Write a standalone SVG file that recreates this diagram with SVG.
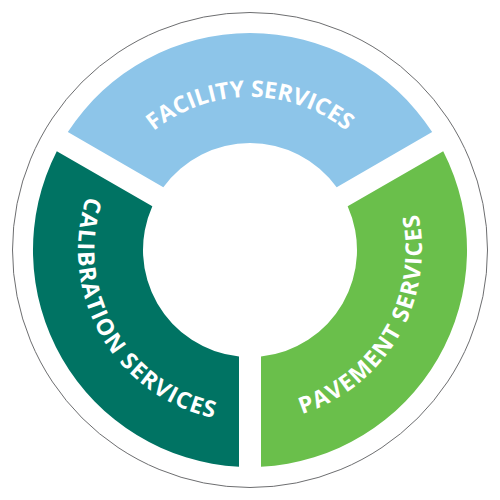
<svg xmlns="http://www.w3.org/2000/svg" width="500" height="500" viewBox="0 0 500 500">
<style>
.lbl{font-family:"Open Sans","Liberation Sans",sans-serif;font-weight:700;font-size:23px;fill:#ffffff}
.side{letter-spacing:1.2px}
</style>
<defs>
<path id="pTop" d="M97,250 A153,153 0 0 1 403,250"/>
<path id="pLeft" d="M164,101.04 A172,172 0 0 0 336,398.96"/>
<path id="pRight" d="M164,398.96 A172,172 0 0 0 336,101.04"/>
</defs>
<rect width="500" height="500" fill="#ffffff"/>
<circle cx="250" cy="250" r="237.5" fill="none" stroke="#6d6e70" stroke-width="1"/>
<g id="facility">
<path d="M67.83,132.1 A217,217 0 0 1 432.17,132.1 L336.67,187.25 A107,107 0 0 0 163.33,187.25 Z" fill="#8dc5e9"/>
<text class="lbl" text-anchor="middle"><textPath href="#pTop" startOffset="50%">FACILITY SERVICES</textPath></text>
</g>
<g id="calibration">
<path d="M239,466.72 A217,217 0 0 1 56.8,151.16 L152.33,206.31 A107,107 0 0 0 239,356.43 Z" fill="#007363"/>
<text class="lbl side" text-anchor="middle"><textPath href="#pLeft" startOffset="50%">CALIBRATION SERVICES</textPath></text>
</g>
<g id="pavement">
<path d="M443.2,151.16 A217,217 0 0 1 261,466.72 L261,356.43 A107,107 0 0 0 347.67,206.31 Z" fill="#6abf4b"/>
<text class="lbl side" text-anchor="middle"><textPath href="#pRight" startOffset="50%">PAVEMENT SERVICES</textPath></text>
</g>
<g id="connectors"/>
</svg>
